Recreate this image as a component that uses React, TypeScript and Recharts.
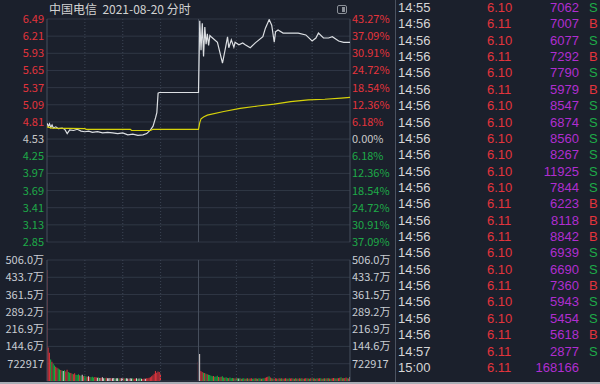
import React from 'react';
import {
  ComposedChart,
  Line,
  XAxis,
  YAxis,
  CartesianGrid,
  ReferenceLine,
  BarChart,
  Bar,
  Cell,
} from 'recharts';

// ---------- data ----------
const PREV_CLOSE = 4.53;
const priceTicks = [6.49, 6.21, 5.93, 5.65, 5.37, 5.09, 4.81, 4.53, 4.25, 3.97, 3.69, 3.41, 3.13, 2.85];
const pctLabels = ['43.27%', '37.09%', '30.91%', '24.72%', '18.54%', '12.36%', '6.18%', '0.00%', '6.18%', '12.36%', '18.54%', '24.72%', '30.91%', '37.09%'];
const volTicks = [0, 72.2917, 144.6, 216.9, 289.2, 361.5, 433.7, 506.0];
const volLabels = ['', '722917', '144.6万', '216.9万', '289.2万', '361.5万', '433.7万', '506.0万'];
const timeGrid = [30, 60, 90, 150, 180, 210];
const MIDDAY = 120;

// price line (minute index, price)
const priceMinutes = [
  0, 1, 2, 3, 4, 5, 7, 9, 12, 14,
  16, 18, 21, 24, 27, 30, 33, 36, 40, 44,
  48, 52, 56, 60, 64, 68, 72, 76, 79, 82,
  84, 86, 87, 88, 89, 120,
  121, 122, 123, 124, 125, 126, 127, 128, 129, 130,
  135, 139, 141, 143, 144, 146, 148, 149, 152, 155,
  157, 161, 165, 171, 173, 176, 178, 180, 181, 183,
  187, 195, 199, 205, 210, 213, 215, 219, 223, 226,
  231, 235, 240,
];
const priceValues = [
  4.79, 4.74, 4.78, 4.72, 4.76, 4.71, 4.73, 4.70, 4.71, 4.69,
  4.62, 4.68, 4.67, 4.69, 4.66, 4.65, 4.66, 4.64, 4.65, 4.63,
  4.64, 4.63, 4.62, 4.63, 4.60, 4.61, 4.59, 4.60, 4.62, 4.68,
  4.74, 4.88, 4.96, 5.28, 5.29, 5.29,
  6.46, 5.98, 6.42, 5.88, 6.36, 6.08, 6.25, 6.06, 6.22, 6.20,
  6.11, 5.77, 5.98, 6.20, 6.02, 6.15, 6.03, 6.11, 6.07, 6.10,
  6.07, 6.02, 6.10, 6.20, 6.34, 6.48, 6.39, 6.11, 6.28, 6.31,
  6.26, 6.26, 6.26, 6.23, 6.13, 6.18, 6.26, 6.18, 6.18, 6.20,
  6.13, 6.11, 6.11,
];

// average price line
const avgMinutes = [0, 4, 30, 31, 66, 67, 82, 84, 120, 121, 122, 124, 127, 140, 153, 167, 180, 193, 207, 220, 233, 240];
const avgValues = [4.73, 4.71, 4.70, 4.69, 4.69, 4.67, 4.67, 4.69, 4.69, 4.80, 4.86, 4.89, 4.92, 4.98, 5.03, 5.07, 5.10, 5.14, 5.17, 5.18, 5.20, 5.21];

// volume (万), morning 9:30 onwards, afternoon from 13:00
const volMorning = [
  464, 140, 118, 90, 80, 72, 65, 60, 55, 52,
  48, 46, 44, 42, 45, 40, 47, 38, 35, 33,
  30, 28, 32, 26, 25, 28, 24, 22, 26, 20,
  22, 19, 18, 20, 17, 16, 18, 15, 17, 16,
  14, 15, 13, 14, 16, 12, 13, 14, 12, 11,
  13, 12, 11, 13, 10, 12, 11, 10, 12, 11,
  10, 11, 10, 12, 10, 9, 11, 10, 12, 9,
  10, 11, 9, 10, 12, 9, 8, 10, 9, 11,
  12, 14, 16, 20, 24, 30, 42, 35, 40, 38, 30,
];
const volAfternoon = [
  80, 113, 42, 38, 35, 33, 30, 28, 26, 25,
  22, 20, 21, 18, 19, 22, 17, 16, 18, 20,
  15, 14, 16, 13, 12, 15, 11, 13, 12, 10,
  11, 12, 10, 11, 9, 10, 12, 9, 10, 11,
  9, 10, 11, 9, 10, 12, 10, 9, 11, 10,
  9, 10, 12, 14, 16, 18, 20, 15, 12, 10,
  9, 11, 10, 9, 12, 10, 11, 9, 10, 12,
  10, 9, 11, 10, 12, 10, 9, 11, 10, 9,
  12, 10, 11, 9, 10, 11, 12, 10, 9, 11,
  10, 12, 10, 9, 11, 10, 12, 11, 9, 10,
  12, 10, 11, 12, 10, 9, 11, 13, 12, 10,
  11, 12, 14, 16, 12, 11, 13, 15, 12, 10, 17,
];
const dirMorning = [
  'rrrgrggrrg', 'grgwgrrggr', 'grrgggrgwr', 'ggrwrgggrr', 'wgwrwwgrww',
  'wrwwgwwgrw', 'wrgwwrwwgr', 'rwgwgwrrwr', 'rrrrrrrrrrr',
].join('');
const dirAfternoon = [
  'rwrrgrgrgg', 'ggrgggrgrg', 'grggrgggrg', 'rgwgrggrgr', 'grrggrgrgg', 'rggrrrgrgr',
  'grrgrgrgrr', 'grgrrgrgrg', 'rgrgrrgrgr', 'grgrgrrgrg', 'rgrgrgrrgr', 'grrgrgrrgr', 'w',
].join('');

// trade list
const tradeTimes = ['14:55', '14:56', '14:56', '14:56', '14:56', '14:56', '14:56', '14:56', '14:56', '14:56', '14:56', '14:56', '14:56', '14:56', '14:56', '14:56', '14:56', '14:56', '14:56', '14:56', '14:56', '14:57', '15:00'];
const tradePrices = ['6.10', '6.11', '6.10', '6.11', '6.10', '6.11', '6.10', '6.10', '6.10', '6.10', '6.10', '6.10', '6.11', '6.11', '6.11', '6.10', '6.10', '6.11', '6.10', '6.10', '6.11', '6.11', '6.11'];
const tradeVols = ['7062', '7007', '6077', '7292', '7790', '5979', '8547', '6874', '8560', '8267', '11925', '7844', '6223', '8118', '8842', '6939', '6690', '7360', '5943', '5454', '5618', '2877', '168166'];
const tradeSides = ['S', 'B', 'S', 'B', 'S', 'B', 'S', 'S', 'S', 'S', 'S', 'S', 'B', 'B', 'B', 'S', 'S', 'B', 'S', 'S', 'B', 'S', ''];

// ---------- styles ----------
const BG = '#1b202c';
const GRID = '#303745';
const VGRID = '#3c4454';
const BORDER = '#464e5c';
const RED = '#e3343c';
const GREEN = '#1eaa48';
const GRAY = '#c8c8c8';
const VOLTXT = '#c9cdd3';
const PURPLE = '#b02ed0';
const FONT = '"Noto Sans CJK SC", "Noto Sans", sans-serif';
const TABLE_FONT = '"Liberation Sans", Arial, sans-serif';
const BAR_COLORS: Record<string, string> = { r: '#e3343c', g: '#18b040', w: '#dcd4d4' };

// ---------- derived chart tables ----------
const lineMap = new Map<number, { t: number; p?: number; a?: number }>();
priceMinutes.forEach((t, k) => {
  const o = lineMap.get(t) || { t };
  o.p = priceValues[k];
  lineMap.set(t, o);
});
avgMinutes.forEach((t, k) => {
  const o = lineMap.get(t) || { t };
  o.a = avgValues[k];
  lineMap.set(t, o);
});
const lineData = Array.from(lineMap.values()).sort((x, y) => x.t - y.t);

const volData = [
  ...volMorning.map((v, k) => ({ i: k, v, d: dirMorning[k] || 'r' })),
  ...volAfternoon.map((v, k) => ({ i: MIDDAY + k, v, d: dirAfternoon[k] || 'r' })),
];

const priceColor = (v: number) =>
  v > PREV_CLOSE + 1e-6 ? RED : v < PREV_CLOSE - 1e-6 ? GREEN : GRAY;

const tickIndex = (v: number) => priceTicks.findIndex((t) => Math.abs(t - v) < 1e-6);

const LeftPriceTick = (props: any) => {
  const { x, y, payload } = props;
  const v = payload.value as number;
  return (
    <text x={x} y={y} dy={4} textAnchor="end" fill={priceColor(v)} fontSize={11} fontFamily={FONT}>
      {v.toFixed(2)}
    </text>
  );
};
const RightPctTick = (props: any) => {
  const { x, y, payload } = props;
  const v = payload.value as number;
  const idx = tickIndex(v);
  return (
    <text x={x} y={y} dy={4} textAnchor="start" fill={priceColor(v)} fontSize={11} fontFamily={FONT}>
      {idx >= 0 ? pctLabels[idx] : ''}
    </text>
  );
};
const volTickLabel = (v: number) => {
  const idx = volTicks.findIndex((t) => Math.abs(t - v) < 1e-6);
  return idx >= 0 ? volLabels[idx] : '';
};
const LeftVolTick = (props: any) => {
  const { x, y, payload } = props;
  return (
    <text x={x} y={y} dy={4} textAnchor="end" fill={VOLTXT} fontSize={11} fontFamily={FONT}>
      {volTickLabel(payload.value)}
    </text>
  );
};
const RightVolTick = (props: any) => {
  const { x, y, payload } = props;
  return (
    <text x={x} y={y} dy={4} textAnchor="start" fill={VOLTXT} fontSize={11} fontFamily={FONT}>
      {volTickLabel(payload.value)}
    </text>
  );
};

const ROW0 = 0;
const ROWH = 16.36;

export default function App() {
  return (
    <div
      style={{
        position: 'absolute',
        left: 0,
        top: 0,
        width: 600,
        height: 384,
        background: BG,
        overflow: 'hidden',
        fontFamily: FONT,
      }}
    >
      <div
        style={{
          position: 'absolute',
          left: 49,
          top: 1,
          fontSize: 12,
          lineHeight: '16px',
          color: '#d2d2d2',
          whiteSpace: 'pre',
        }}
      >
        中国电信  2021-08-20 分时
      </div>
      <div
        style={{
          position: 'absolute',
          left: 337,
          top: 5,
          width: 8,
          height: 7,
          border: '1px solid #8b9098',
          borderRadius: 2,
        }}
      >
        <div style={{ position: 'absolute', right: 1, top: 1, width: 3, height: 5, background: '#8b9098' }} />
      </div>

      <div style={{ position: 'absolute', left: 0, top: 0 }}>
        <ComposedChart width={600} height={250} data={lineData} margin={{ top: 19, right: 0, bottom: 8, left: 0 }}>
          <CartesianGrid vertical={false} stroke={GRID} />
          <XAxis type="number" dataKey="t" domain={[0, 240]} hide allowDataOverflow />
          <YAxis
            domain={[2.85, 6.49]}
            ticks={priceTicks}
            interval={0}
            width={47}
            axisLine={false}
            tickLine={false}
            tickSize={0}
            tickMargin={3}
            tick={<LeftPriceTick />}
            allowDataOverflow
          />
          <YAxis
            yAxisId="r"
            orientation="right"
            domain={[2.85, 6.49]}
            ticks={priceTicks}
            interval={0}
            width={250}
            axisLine={false}
            tickLine={false}
            tickSize={0}
            tickMargin={2}
            tick={<RightPctTick />}
            allowDataOverflow
          />
          {timeGrid.map((t) => (
            <ReferenceLine key={t} x={t} stroke={VGRID} strokeDasharray="1 2" />
          ))}
          <ReferenceLine x={MIDDAY} stroke={BORDER} />
          <ReferenceLine x={0} stroke={BORDER} />
          <ReferenceLine x={240} stroke={BORDER} />
          <Line
            type="linear"
            dataKey="p"
            stroke="#dcdfe3"
            strokeWidth={1.2}
            dot={false}
            connectNulls
            isAnimationActive={false}
          />
          <Line
            type="linear"
            dataKey="a"
            stroke="#d6d20a"
            strokeWidth={1.2}
            dot={false}
            connectNulls
            isAnimationActive={false}
          />
        </ComposedChart>
      </div>

      <div style={{ position: 'absolute', left: 0, top: 250 }}>
        <BarChart width={600} height={134} data={volData} margin={{ top: 10, right: 0, bottom: 3, left: 0 }}>
          <CartesianGrid vertical={false} stroke={GRID} />
          <XAxis type="number" dataKey="i" domain={[0, 240]} hide allowDataOverflow />
          <YAxis
            domain={[0, 506]}
            ticks={volTicks}
            interval={0}
            width={47}
            axisLine={false}
            tickLine={false}
            tickSize={0}
            tickMargin={3}
            tick={<LeftVolTick />}
            allowDataOverflow
          />
          <YAxis
            yAxisId="r"
            orientation="right"
            domain={[0, 506]}
            ticks={volTicks}
            interval={0}
            width={250}
            axisLine={false}
            tickLine={false}
            tickSize={0}
            tickMargin={2}
            tick={<RightVolTick />}
            allowDataOverflow
          />
          {timeGrid.map((t) => (
            <ReferenceLine key={t} x={t} stroke={VGRID} strokeDasharray="1 2" />
          ))}
          <ReferenceLine x={MIDDAY} stroke={BORDER} />
          <ReferenceLine x={0} stroke={BORDER} />
          <ReferenceLine x={240} stroke={BORDER} />
          <Bar dataKey="v" barSize={1} isAnimationActive={false}>
            {volData.map((d, k) => (
              <Cell key={k} fill={BAR_COLORS[d.d] || BAR_COLORS.r} />
            ))}
          </Bar>
        </BarChart>
      </div>

      <div style={{ position: 'absolute', left: 395, top: 0, width: 1, height: 384, background: '#4a5260' }} />

      {tradeTimes.map((tm, i) => {
        const top = ROW0 + i * ROWH;
        const side = tradeSides[i];
        return (
          <div
            key={i}
            style={{
              position: 'absolute',
              left: 0,
              top,
              width: 600,
              height: 15,
              fontSize: 13,
              lineHeight: '15px',
              fontFamily: TABLE_FONT,
            }}
          >
            <span style={{ position: 'absolute', left: 398, color: '#d6d6d6' }}>{tm}</span>
            <span style={{ position: 'absolute', left: 487, color: RED }}>{tradePrices[i]}</span>
            <span style={{ position: 'absolute', right: 600 - 579, color: PURPLE }}>{tradeVols[i]}</span>
            {side && (
              <span style={{ position: 'absolute', left: 589, color: side === 'B' ? RED : GREEN }}>{side}</span>
            )}
          </div>
        );
      })}

      <div style={{ position: 'absolute', left: 0, top: 382, width: 600, height: 2, background: '#a9aeb6' }} />
    </div>
  );
}
